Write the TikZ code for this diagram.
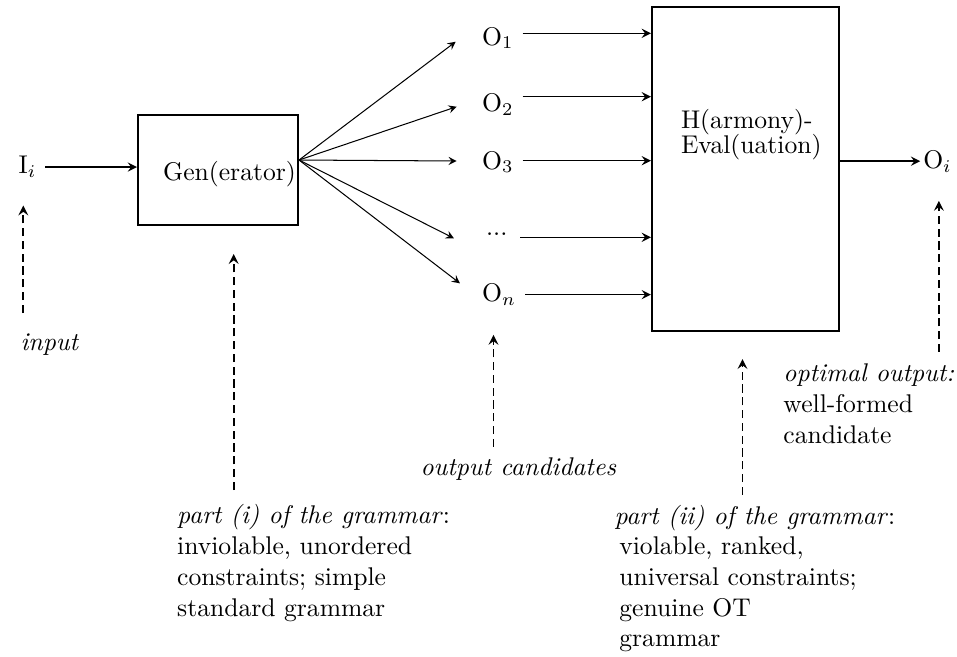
\documentclass[tikz,border=0pt]{standalone}
\usepackage{tikz}

\begin{document}
\begin{tikzpicture}[>=stealth, scale=1.0,
    box/.style={draw, line width=0.8pt, inner sep=0pt},
    flow/.style={->, line width=0.6pt},
    fan/.style={->, line width=0.4pt},
    hint/.style={->, line width=0.7pt, dash pattern=on 3.2pt off 1.8pt},
    cand/.style={anchor=west, minimum width=18pt},
    lbl/.style={anchor=base west, inner sep=0pt, align=left}]
  \useasboundingbox (0,0) rectangle (13.138,9.006);
  % Input and Gen box
  \node (ii) at (0.378,6.713) {I$_i$};
  \node[box, minimum width=2.196cm, minimum height=1.510cm] (gen) at (2.993,6.672) {};
  \node (gentext) at (3.151,6.613) {Gen(erator)};
  \draw[flow] (ii) -- (ii -| gen.west);
  \coordinate (fan) at ([yshift=3.9pt]gen.east);
  % Candidate set
  \node[cand] (o1) at (6.496,8.484) {O$_1$};
  \node[cand] (o2) at (6.496,7.570) {O$_2$};
  \node[cand] (o3) at (6.496,6.782) {O$_3$};
  \node[cand] (odots) at (6.496,5.785) {...};
  \node[cand] (on) at (6.496,4.961) {O$_n$};
  % Fan-out from Gen
  \draw[fan] (fan) -- ([shift={(-6.84pt,-1.45pt)}]o1.west);
  \draw[fan] (fan) -- ([shift={(-6.45pt,-0.82pt)}]o2.west);
  \draw[fan] (fan) -- ([shift={(-6.45pt,0.39pt)}]o3.west);
  \draw[fan] (fan) -- ([shift={(-7.5pt,-1.45pt)}]odots.west);
  \draw[fan] (fan) -- ([shift={(-5.16pt,4.41pt)}]on.west);
  % H-Eval box, fed by every candidate
  \node[box, minimum width=2.567cm, minimum height=4.448cm] (heval) at (10.234,6.686) {};
  \node[align=left] (hevaltext) at (10.314,7.161) {H(armony)-\\[-2.25pt]Eval(uation)};
  \draw[flow] ([yshift=1.84pt]o1.east) -- ([yshift=1.84pt]o1.east -| heval.west);
  \draw[flow] ([yshift=3.09pt]o2.east) -- ([yshift=3.09pt]o2.east -| heval.west);
  \draw[flow] ([yshift=0.5pt]o3.east) -- ([yshift=0.5pt]o3.east -| heval.west);
  \draw[flow] ([yshift=-1.05pt]odots.east) -- ([yshift=-1.05pt]odots.east -| heval.west);
  \draw[flow] (on.east) -- (on.east -| heval.west);
  % Winner
  \node[inner xsep=1pt] (oi) at (12.870,6.793) {O$_i$};
  \draw[flow] (heval.east |- oi) -- (oi);
  % Labels below (base = last line)
  \node[lbl] (lblinput) at (0.275,4.201) {\textit{input}};
  \node[lbl] (lblgen) at (2.426,0.549) {\textit{part (i) of the grammar}:\\inviolable, unordered\\constraints; simple\\standard grammar};
  \node[lbl] (lblcand) at (5.766,2.485) {\textit{output candidates}};
  \node[lbl] (lbleval) at (8.429,0.125) {\textit{part (ii) of the grammar}:\\\hspace*{1.9pt}violable, ranked,\\\hspace*{1.9pt}universal constraints;\\\hspace*{1.9pt}genuine OT\\\hspace*{1.9pt}grammar};
  \node[lbl] (lblopt) at (10.749,2.919) {\textit{optimal output:}\\well-formed\\candidate};
  % Dashed pointers straight up to what each label names
  \draw[hint] ([shift={(1.29pt,14.45pt)}]lblinput.base west) coordinate (inputfoot)
    -- ([yshift=-7.34pt]inputfoot |- ii.south);
  \draw[hint] ([shift={(22.27pt,49.22pt)}]lblgen.base west) coordinate (genfoot)
    -- ([yshift=-10.94pt]genfoot |- gen.south);
  \draw[hint] ([shift={(28.7pt,10.94pt)}]lblcand.base west) coordinate (candfoot)
    -- ([yshift=-7.9pt]candfoot |- on.south);
  \draw[hint] ([shift={(50.2pt,59.34pt)}]lbleval.base west) coordinate (evalfoot)
    -- ([yshift=-10.55pt]evalfoot |- heval.south);
  \draw[hint] ([shift={(60.9pt,35.7pt)}]lblopt.base west) coordinate (optfoot)
    -- ([yshift=-7.66pt]optfoot |- oi.south);
\end{tikzpicture}
\end{document}
